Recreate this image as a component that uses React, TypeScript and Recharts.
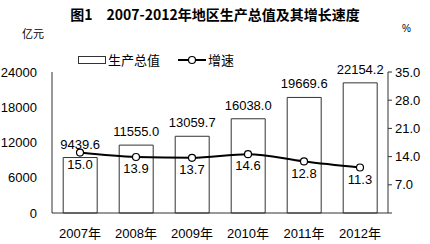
import React from 'react';
import { ComposedChart, Bar, Line, XAxis, YAxis, LabelList, Legend } from 'recharts';

const years = ['2007年', '2008年', '2009年', '2010年', '2011年', '2012年'];
const gdp = [9439.6, 11555.0, 13059.7, 16038.0, 19669.6, 22154.2];
const growth = [15.0, 13.9, 13.7, 14.6, 12.8, 11.3];
const leftTicks = [0, 6000, 12000, 18000, 24000];
const rightTicks = [0, 7, 14, 21, 28, 35];

const data = years.map((year, i) => ({ year, gdp: gdp[i], growth: growth[i] }));

const FONT = '"Liberation Sans", "Noto Sans CJK SC", sans-serif';

function LegendContent() {
  return (
    <div style={{ display: 'flex', alignItems: 'center', fontSize: 13, fontFamily: FONT, color: '#000' }}>
      <svg width={29} height={10} style={{ marginRight: 1 }}>
        <rect x={0.5} y={1.5} width={27} height={7} fill="#fff" stroke="#333" />
      </svg>
      <span>生产总值</span>
      <svg width={28} height={12} style={{ marginLeft: 18, marginRight: 2 }}>
        <line x1={0} y1={6} x2={28} y2={6} stroke="#000" strokeWidth={2} />
        <circle cx={14} cy={6} r={3.5} fill="#fff" stroke="#000" strokeWidth={1.2} />
      </svg>
      <span>增速</span>
    </div>
  );
}

export default function App() {
  return (
    <div style={{ position: 'absolute', left: 0, top: 0, width: 430, height: 244, background: '#fff', fontFamily: FONT }}>
      <div
        style={{
          position: 'absolute',
          top: 4,
          left: 0,
          width: 430,
          textAlign: 'center',
          fontSize: 14,
          fontWeight: 'bold',
          fontFamily: '"Noto Sans CJK SC", sans-serif',
          color: '#000',
          whiteSpace: 'pre',
        }}
      >
        {'图1　2007-2012年地区生产总值及其增长速度'}
      </div>
      <div style={{ position: 'absolute', top: 25, left: 22, fontSize: 11, color: '#000' }}>亿元</div>
      <div style={{ position: 'absolute', top: 23, left: 402, fontSize: 10, color: '#000' }}>%</div>
      <ComposedChart
        width={430}
        height={244}
        data={data}
        margin={{ top: 53, right: 0, bottom: 0, left: 0 }}
        barCategoryGap="20%"
      >
        <XAxis
          dataKey="year"
          axisLine={{ stroke: '#333' }}
          tickLine={false}
          tickSize={6}
          tickMargin={10}
          height={31}
          tick={{ fontSize: 13, fill: '#000', fontFamily: FONT }}
        />
        <YAxis
          yAxisId="left"
          orientation="left"
          domain={[0, 24000]}
          ticks={leftTicks}
          width={52}
          axisLine={{ stroke: '#333' }}
          tickLine={false}
          tickMargin={9}
          tick={{ fontSize: 13, fill: '#000', fontFamily: FONT }}
        />
        <YAxis
          yAxisId="right"
          orientation="right"
          domain={[0, 35]}
          ticks={rightTicks}
          width={42}
          axisLine={{ stroke: '#333' }}
          tickLine={{ stroke: '#333' }}
          tickSize={4}
          tickMargin={3}
          tickFormatter={(v: number) => (v === 0 ? '' : v.toFixed(1))}
          tick={{ fontSize: 13, fill: '#000', fontFamily: FONT }}
        />
        <Legend
          verticalAlign="top"
          content={<LegendContent />}
          wrapperStyle={{ position: 'absolute', top: 50, left: 78, width: 200 }}
        />
        <Bar yAxisId="left" dataKey="gdp" fill="#fff" stroke="#333" strokeWidth={1} isAnimationActive={false}>
          <LabelList
            dataKey="gdp"
            position="top"
            offset={9}
            formatter={(v: number) => v.toFixed(1)}
            style={{ fontSize: 13, fill: '#000', fontFamily: FONT }}
          />
        </Bar>
        <Line
          yAxisId="right"
          type="monotone"
          dataKey="growth"
          stroke="#000"
          strokeWidth={2}
          dot={{ r: 3.5, fill: '#fff', stroke: '#000', strokeWidth: 1.2 }}
          isAnimationActive={false}
        >
          <LabelList
            dataKey="growth"
            position="bottom"
            offset={7}
            formatter={(v: number) => v.toFixed(1)}
            style={{ fontSize: 13, fill: '#000', fontFamily: FONT }}
          />
        </Line>
      </ComposedChart>
    </div>
  );
}
